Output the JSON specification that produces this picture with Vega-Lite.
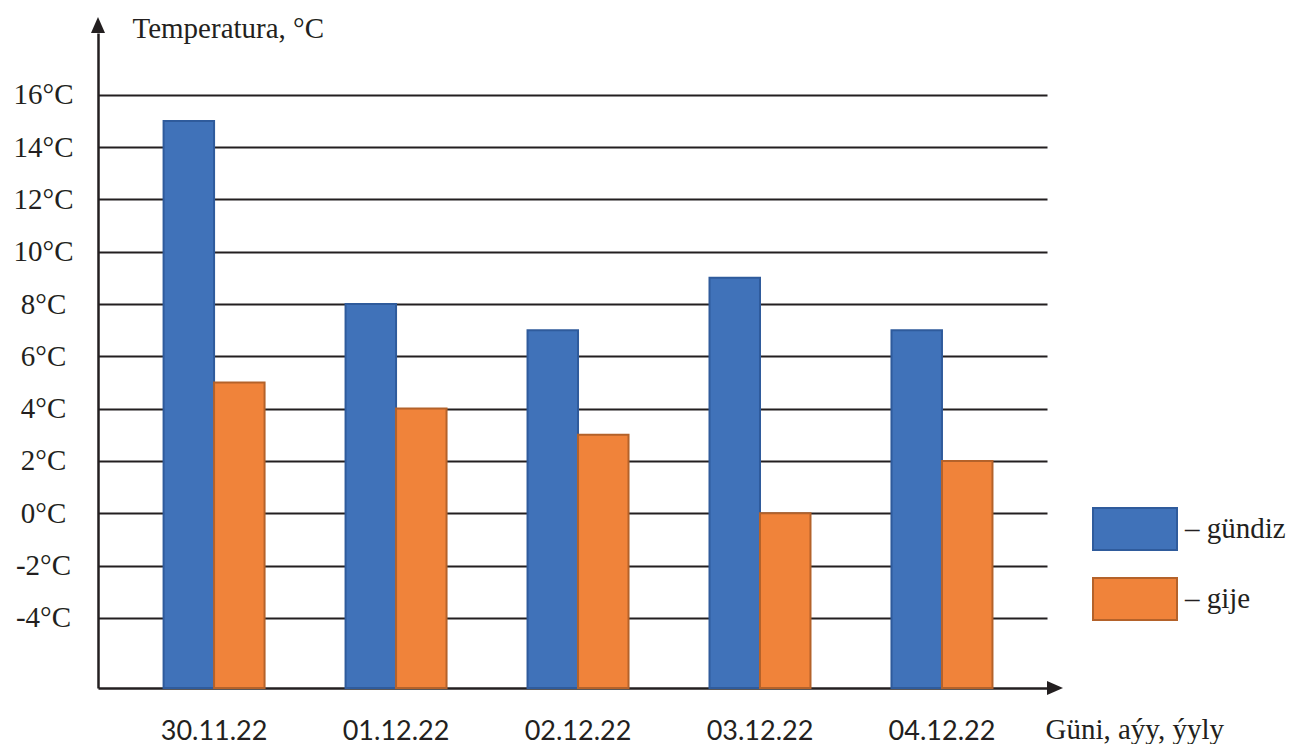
{
  "$schema": "https://vega.github.io/schema/vega-lite/v6.json",
  "width": 949,
  "height": 655,
  "autosize": {"type": "none"},
  "padding": {"left": 98, "top": 33, "right": 244, "bottom": 56},
  "background": "white",
  "config": {
    "view": {"stroke": null},
    "font": "Liberation Serif",
    "axisX": {"labelFont": "Lato"},
    "axisY": {"labelFont": "Liberation Serif"},
    "legend": {"labelFont": "Liberation Serif"}
  },
  "data": {
    "values": [
      {"date": "30.11.22", "series": "gündiz", "temp": 15},
      {"date": "30.11.22", "series": "gije", "temp": 5},
      {"date": "01.12.22", "series": "gündiz", "temp": 8},
      {"date": "01.12.22", "series": "gije", "temp": 4},
      {"date": "02.12.22", "series": "gündiz", "temp": 7},
      {"date": "02.12.22", "series": "gije", "temp": 3},
      {"date": "03.12.22", "series": "gündiz", "temp": 9},
      {"date": "03.12.22", "series": "gije", "temp": 0},
      {"date": "04.12.22", "series": "gündiz", "temp": 7},
      {"date": "04.12.22", "series": "gije", "temp": 2}
    ]
  },
  "layer": [
    {
      "mark": {"type": "bar", "strokeWidth": 2},
      "encoding": {
        "x": {
          "field": "date", "type": "nominal", "sort": null,
          "scale": {"paddingInner": 0.445, "paddingOuter": 0.33, "align": 0.546},
          "axis": {
            "labelFont": "Lato", "labelFontSize": 27, "labelColor": "#231F20",
            "labelAngle": 0, "labelBaseline": "alphabetic", "labelPadding": 51,
            "ticks": false, "tickSize": 0,
            "domain": true, "domainColor": "#231F20", "domainWidth": 2.5,
            "title": "Güni, aýy, ýyly", "titleX": 947, "titleY": 50,
            "titleAlign": "left", "titleBaseline": "alphabetic",
            "titleFont": "Liberation Serif", "titleFontSize": 29,
            "titleFontWeight": "normal", "titleColor": "#231F20"
          }
        },
        "xOffset": {
          "field": "series", "type": "nominal", "sort": ["gündiz", "gije"],
          "scale": {"paddingInner": 0, "paddingOuter": 0}
        },
        "y": {
          "field": "temp", "type": "quantitative",
          "scale": {"domain": [-6.684, 18.363], "nice": false, "zero": false},
          "axis": {
            "values": [-4, -2, 0, 2, 4, 6, 8, 10, 12, 14, 16],
            "labelExpr": "datum.value + '°C'",
            "labelFont": "Liberation Serif", "labelFontSize": 29, "labelColor": "#231F20",
            "labelAlign": "center", "labelBaseline": "middle", "labelPadding": 55,
            "labelFlush": false, "labelOverlap": false,
            "ticks": false, "tickSize": 0,
            "domain": true, "domainColor": "#231F20", "domainWidth": 2.5,
            "grid": true, "gridColor": "#231F20", "gridWidth": 2, "gridOpacity": 1,
            "title": "Temperatura, °C", "titleAngle": 0, "titleX": 34, "titleY": 4,
            "titleAlign": "left", "titleBaseline": "alphabetic",
            "titleFont": "Liberation Serif", "titleFontSize": 29,
            "titleFontWeight": "normal", "titleColor": "#231F20"
          }
        },
        "y2": {"datum": -6.684},
        "fill": {
          "field": "series", "type": "nominal",
          "scale": {"domain": ["gündiz", "gije"], "range": ["#4072B9", "#F0833A"]},
          "legend": {
            "orient": "none", "legendX": 994, "legendY": 453, "title": null,
            "symbolType": "M-1,-0.5H1V0.5H-1Z", "symbolSize": 7056, "symbolStrokeWidth": 2,
            "labelExpr": "'– ' + datum.label", "labelFont": "Liberation Serif",
            "labelFontSize": 29, "labelColor": "#231F20", "labelOffset": 7,
            "rowPadding": 2, "padding": 0
          }
        },
        "stroke": {
          "field": "series", "type": "nominal",
          "scale": {"domain": ["gündiz", "gije"], "range": ["#2F5B9C", "#B4622A"]},
          "legend": {
            "orient": "none", "legendX": 994, "legendY": 453, "title": null,
            "symbolType": "M-1,-0.5H1V0.5H-1Z", "symbolSize": 7056, "symbolStrokeWidth": 2,
            "labelExpr": "'– ' + datum.label", "labelFont": "Liberation Serif",
            "labelFontSize": 29, "labelColor": "#231F20", "labelOffset": 7,
            "rowPadding": 2, "padding": 0
          }
        }
      }
    },
    {
      "data": {"values": [{"arrow": "y"}]},
      "mark": {"type": "point", "shape": "M0,-2L0.875,0L-0.875,0Z", "size": 256, "filled": true, "color": "#231F20", "opacity": 1},
      "encoding": {"x": {"value": 0}, "y": {"value": 0}}
    },
    {
      "data": {"values": [{"arrow": "x"}]},
      "mark": {"type": "point", "shape": "M2,0L0,-0.875L0,0.875Z", "size": 256, "filled": true, "color": "#231F20", "opacity": 1},
      "encoding": {"x": {"value": "width"}, "y": {"value": "height"}}
    }
  ]
}
